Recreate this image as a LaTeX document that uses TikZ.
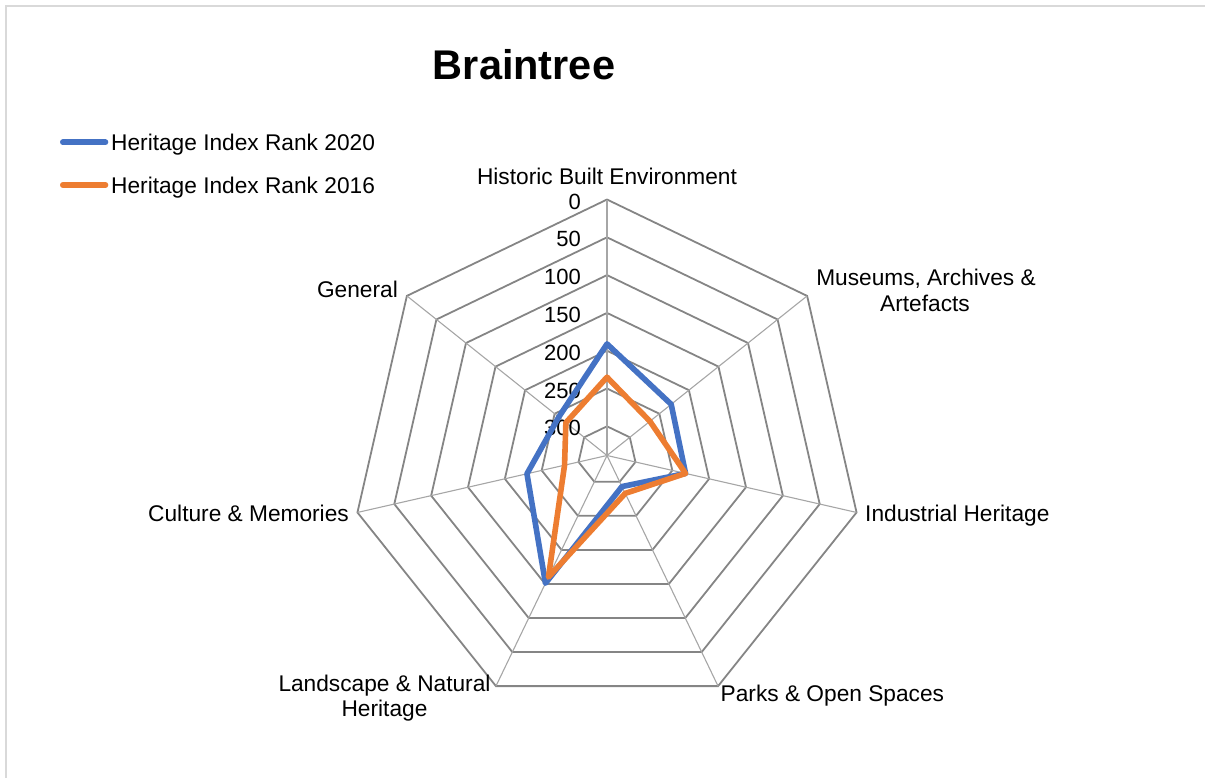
\documentclass[tikz,border=0pt]{standalone}
\usepackage{fontspec}
\setmainfont{Liberation Sans}
\usetikzlibrary{positioning}

\definecolor{rank2020}{HTML}{4472C4}
\definecolor{rank2016}{HTML}{ED7D31}
\definecolor{gridgray}{HTML}{858585}
\definecolor{spokegray}{HTML}{A6A6A6}
\definecolor{framegray}{HTML}{D9D9D9}

\begin{document}
\begin{tikzpicture}[%
		x=1pt, y=1pt,
		declare function={rr(\v)=(338.6-\v)*0.756;},
		every node/.style={%
			inner sep=0pt,
			font=\fontsize{22.7}{26}\selectfont
		},
		ring/.style={draw=gridgray, line width=1.8pt, line join=miter},
		spoke/.style={draw=spokegray, line width=1.1pt},
		series/.style={line width=5.6pt, line join=round, line cap=round}
	]

	\useasboundingbox (0, -778) rectangle (1205, 0);
	\draw[framegray, line width=2pt] (5.5, -778) -- (5.5, -6.5) -- (1205, -6.5);

	\node[anchor=base, font=\fontsize{41.5}{48}\selectfont\bfseries] (title) at (524, -80) {Braintree};

	% legend
	\coordinate (leg2020a) at (62.8, -142.3);
	\coordinate (leg2020b) at (105.5, -142.3);
	\coordinate (leg2016a) at (62.8, -185);
	\coordinate (leg2016b) at (105.5, -185);
	\draw[series, rank2020] (leg2020a) -- (leg2020b);
	\draw[series, rank2016] (leg2016a) -- (leg2016b);
	\node[anchor=base west] (leg2020) at (111, -150.5) {Heritage Index Rank 2020};
	\node[anchor=base west] (leg2016) at (111, -193.2) {Heritage Index Rank 2016};

	% radar grid and series
	\begin{scope}[shift={(607, -455.5)}]
		\coordinate (c) at (0, 0);
		\foreach \v in {0, 50, ..., 300}
			\draw[ring] (90:{rr(\v)}) \foreach \i in {1, ..., 6} { -- ({90-\i*360/7}:{rr(\v)}) } -- cycle;
		\foreach \i in {0, ..., 6}
			\draw[spoke] (c) -- ({90-\i*360/7}:{rr(0)});
		\foreach \v in {0, 50, ..., 300}
			\node[anchor=base east, font=\fontsize{22}{26}\selectfont] (tick\v) at (-26, {rr(\v)-9.5}) {\v};

		\draw[series, rank2020] (90:{rr(191)}) -- (38.571:{rr(230)}) -- (-12.857:{rr(232)})
			-- (-64.286:{rr(293)}) -- (-115.714:{rr(151)}) -- (-167.143:{rr(230)})
			-- (141.429:{rr(257)}) -- cycle;
		\draw[series, rank2016] (90:{rr(235)}) -- (38.571:{rr(266)}) -- (-12.857:{rr(232)})
			-- (-64.286:{rr(283)}) -- (-115.714:{rr(160)}) -- (-167.143:{rr(281)})
			-- (141.429:{rr(269)}) -- cycle;
	\end{scope}

	% category labels
	\node[anchor=base] (historic) at (607, -184.5) {Historic Built Environment};
	\node[anchor=base] (museums) at (926, -285) {Museums, Archives \&};
	\node[anchor=base] (museums2) at (925, -311) {Artefacts};
	\node[anchor=base west] (industrial) at (865, -521.5) {Industrial Heritage};
	\node[anchor=base west] (parks) at (720.5, -701) {Parks \& Open Spaces};
	\node[anchor=base] (landscape) at (384.5, -691) {Landscape \& Natural};
	\node[anchor=base] (landscape2) at (384.5, -716) {Heritage};
	\node[anchor=base east] (culture) at (349, -521.5) {Culture \& Memories};
	\node[anchor=base east] (general) at (398, -298) {General};
\end{tikzpicture}
\end{document}
